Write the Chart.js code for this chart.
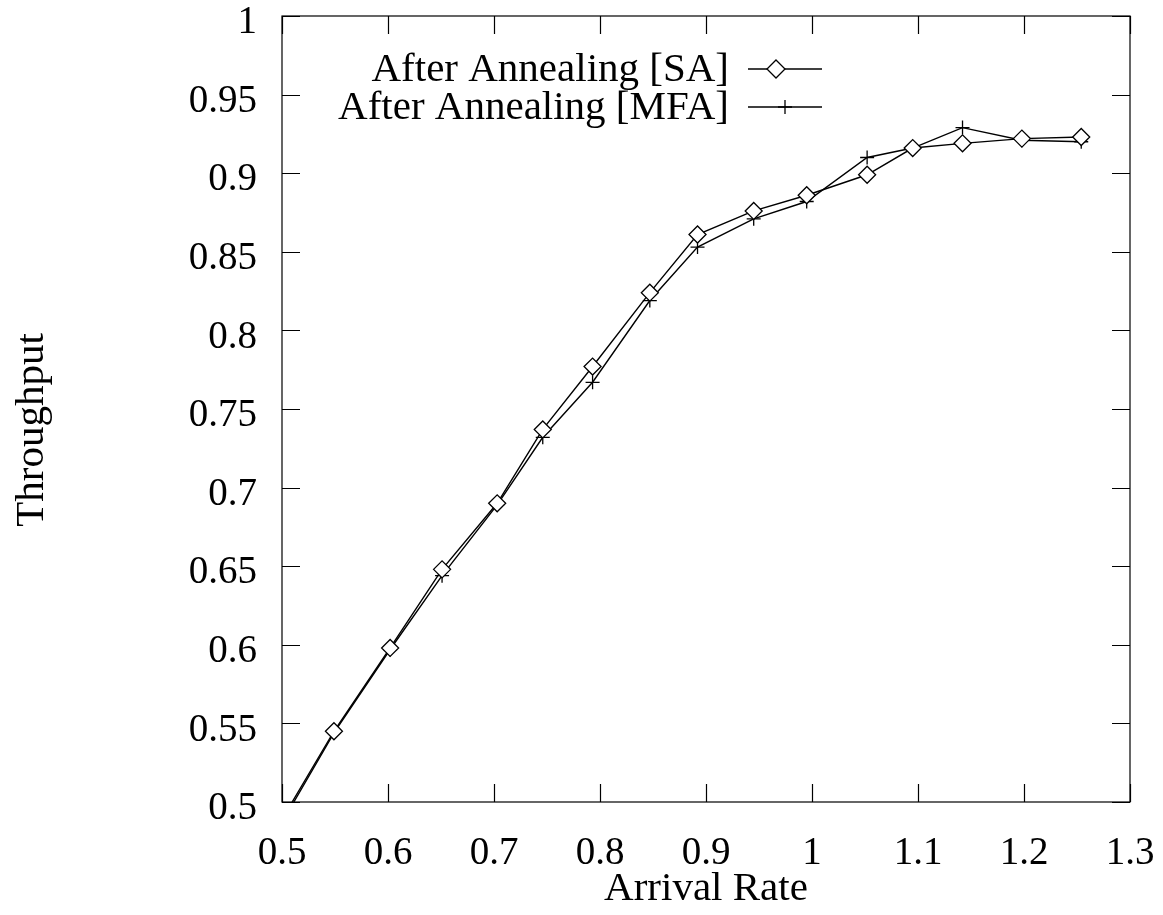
<!DOCTYPE html>
<html>
<head>
<meta charset="utf-8">
<script src="https://cdn.jsdelivr.net/npm/chart.js@4"></script>
<style>
  body { margin: 0; background: #fff; }
</style>
</head>
<body>
<canvas id="diagram" width="1163" height="915"></canvas>
<script>
// arrival rates (x)
const arrivalRate = [0.5, 0.549, 0.602, 0.651, 0.703, 0.746, 0.793, 0.847, 0.892, 0.945, 0.995, 1.052, 1.095, 1.142, 1.198, 1.254];
// throughput per series
const throughputSA = [0.489, 0.545, 0.598, 0.648, 0.690, 0.737, 0.777, 0.824, 0.861, 0.876, 0.886, 0.899, 0.916, 0.919, 0.922, 0.923];
const throughputMFA = [0.487, 0.544, 0.597, 0.644, 0.689, 0.732, 0.767, 0.819, 0.853, 0.871, 0.882, 0.910, 0.916, 0.929, 0.921, 0.920];
const seriesNames = ["After Annealing [SA]", "After Annealing [MFA]"];
const xTicks = [0.5, 0.6, 0.7, 0.8, 0.9, 1, 1.1, 1.2, 1.3];
const yTicks = [0.5, 0.55, 0.6, 0.65, 0.7, 0.75, 0.8, 0.85, 0.9, 0.95, 1];
const xTitle = "Arrival Rate";
const yTitle = "Throughput";

const font = "Liberation Serif";

// frame round the plot + ticks pointing inwards on all four sides
const frameTicks = {
  id: "frameTicks",
  afterDatasetsDraw(chart) {
    const ctx = chart.ctx;
    const a = chart.chartArea;
    const xs = chart.scales.x;
    const ys = chart.scales.y;
    const len = 18;
    ctx.save();
    ctx.strokeStyle = "#000";
    ctx.lineWidth = 1.2;
    ctx.strokeRect(a.left, a.top, a.right - a.left, a.bottom - a.top);
    ctx.beginPath();
    xTicks.forEach((v) => {
      const px = Math.round(xs.getPixelForValue(v)) + 0.5;
      ctx.moveTo(px, a.bottom);
      ctx.lineTo(px, a.bottom - len);
      ctx.moveTo(px, a.top);
      ctx.lineTo(px, a.top + len);
    });
    yTicks.forEach((v) => {
      const py = Math.round(ys.getPixelForValue(v)) + 0.5;
      ctx.moveTo(a.left, py);
      ctx.lineTo(a.left + len, py);
      ctx.moveTo(a.right, py);
      ctx.lineTo(a.right - len, py);
    });
    ctx.stroke();
    ctx.restore();
  },
};

// axis titles, placed where the scan has them
const axisTitles = {
  id: "axisTitles",
  afterDraw(chart) {
    const ctx = chart.ctx;
    const a = chart.chartArea;
    ctx.save();
    ctx.fillStyle = "#000";
    ctx.font = "41px '" + font + "'";
    ctx.textAlign = "center";
    ctx.textBaseline = "alphabetic";
    ctx.fillText(xTitle, (a.left + a.right) / 2, 900);
    ctx.translate(43, 430);
    ctx.rotate(-Math.PI / 2);
    ctx.fillText(yTitle, 0, 0);
    ctx.restore();
  },
};

function drawDiamond(ctx, x, y, r) {
  ctx.beginPath();
  ctx.moveTo(x, y - r);
  ctx.lineTo(x + r, y);
  ctx.lineTo(x, y + r);
  ctx.lineTo(x - r, y);
  ctx.closePath();
  ctx.fillStyle = "#fff";
  ctx.fill();
  ctx.stroke();
}

function drawCross(ctx, x, y, r) {
  ctx.beginPath();
  ctx.moveTo(x - r, y);
  ctx.lineTo(x + r, y);
  ctx.moveTo(x, y - r);
  ctx.lineTo(x, y + r);
  ctx.stroke();
}

// gnuplot style key: text right aligned, then a line sample with its marker
const keyBox = {
  id: "keyBox",
  afterDraw(chart) {
    const ctx = chart.ctx;
    const textRight = 729;
    const lineStart = 748;
    const lineEnd = 822;
    const rows = [69, 107];
    ctx.save();
    ctx.font = "41px '" + font + "'";
    ctx.textAlign = "right";
    ctx.textBaseline = "middle";
    ctx.strokeStyle = "#000";
    ctx.lineWidth = 1.3;
    rows.forEach((y, i) => {
      ctx.fillStyle = "#000";
      ctx.fillText(seriesNames[i], textRight, y + 1);
      ctx.beginPath();
      ctx.moveTo(lineStart, y);
      ctx.lineTo(lineEnd, y);
      ctx.stroke();
      if (i === 0) drawDiamond(ctx, 776, y, 9);
      else drawCross(ctx, 785, y, 7);
    });
    ctx.restore();
  },
};

const data = {
  datasets: [
    {
      label: seriesNames[0],
      data: arrivalRate.map((x, i) => ({ x: x, y: throughputSA[i] })),
      showLine: true,
      borderColor: "#000",
      borderWidth: 1.4,
      pointStyle: "rectRot",
      pointRadius: 8.5,
      pointBackgroundColor: "#fff",
      pointBorderColor: "#000",
      pointBorderWidth: 1.3,
      clip: 0,
    },
    {
      label: seriesNames[1],
      data: arrivalRate.map((x, i) => ({ x: x, y: throughputMFA[i] })),
      showLine: true,
      borderColor: "#000",
      borderWidth: 1.4,
      pointStyle: "cross",
      pointRadius: 7,
      pointBorderColor: "#000",
      pointBorderWidth: 1.3,
      clip: 0,
    },
  ],
};

const config = {
  type: "scatter",
  data: data,
  options: {
    responsive: false,
    animation: false,
    layout: { padding: { left: 8, right: 33, top: 16, bottom: 0 } },
    plugins: {
      legend: { display: false },
      tooltip: { enabled: false },
    },
    scales: {
      x: {
        min: 0.5,
        max: 1.3,
        afterBuildTicks: (scale) => {
          scale.ticks = xTicks.map((v) => ({ value: v }));
        },
        afterFit: (scale) => {
          scale.height = 113;
          scale.paddingLeft = 0;
          scale.paddingRight = 0;
        },
        grid: { display: false, drawTicks: false },
        border: { display: false },
        ticks: {
          color: "#000",
          padding: 28,
          maxRotation: 0,
          font: { family: font, size: 39 },
          callback: (v) => String(Math.round(v * 10) / 10),
        },
      },
      y: {
        min: 0.5,
        max: 1,
        afterBuildTicks: (scale) => {
          scale.ticks = yTicks.map((v) => ({ value: v }));
        },
        afterFit: (scale) => {
          scale.width = 274;
          scale.paddingTop = 0;
          scale.paddingBottom = 0;
        },
        grid: { display: false, drawTicks: false },
        border: { display: false },
        ticks: {
          color: "#000",
          padding: 25,
          labelOffset: 7,
          font: { family: font, size: 39 },
          callback: (v) => String(Math.round(v * 100) / 100),
        },
      },
    },
  },
  plugins: [frameTicks, axisTitles, keyBox],
};

const canvas = document.getElementById("diagram");
const chart = new Chart(canvas, config);
</script>
</body>
</html>
